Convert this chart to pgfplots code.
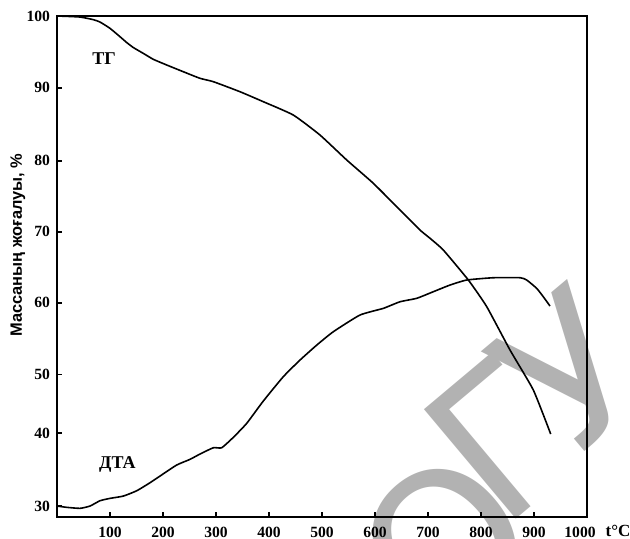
\documentclass[border=0pt]{standalone}
\usepackage{fontspec}
\setmainfont{Liberation Serif}
\newfontfamily\lsans{Liberation Sans}
\newfontfamily\wmfont{DejaVu Sans}
\usepackage{pgfplots}
\pgfplotsset{compat=1.18}
\tikzset{wm/.style={rotate=40, text=black!30, inner sep=0pt, font=\wmfont\fontsize{98}{98}\selectfont}}
\begin{document}
\begin{tikzpicture}
\begin{axis}[
  set layers,
  scale only axis, width=265pt, height=250.5pt,
  xmin=0, xmax=1000, ymin=30.13, ymax=100,
  axis line style={line width=1pt},
  tick align=inside, tick pos=left, major tick length=2.5pt,
  tick style={line width=0.8pt, black},
  xtick={100,200,300,400,500,600,700,800,900,1000},
  xticklabels={100,200,300,400,500,600,700,800,900,\hspace*{-7pt}1000},
  ytick={31.66,41.84,50,60,69.9,79.8,90,100},
  yticklabels={30,40,50,60,70,80,90,100},
  ticklabel style={font=\bfseries\fontsize{7.8}{9}\selectfont},
  xticklabel style={yshift=-1.4pt},
  ylabel={Массаның жоғалуы, \%},
  every axis y label/.style={at={(axis description cs:-0.074,0.543)}, rotate=90, anchor=center, font=\lsans\bfseries\fontsize{8.2}{10}\selectfont},
  clip=false,
]
\begin{pgfonlayer}{axis background}
\node[wm] at (axis cs:732,26.6) {О};
\node[wm] at (axis cs:837.7,41.1) {Г};
\node[wm] at (axis cs:968,50.6) {У};
\end{pgfonlayer}
\coordinate (bl) at (rel axis cs:0,0);
% TG
\addplot[black, line width=0.8pt, smooth, tension=0.3] coordinates {
(0,100)(42.8,99.86)(68.5,99.49)(81.1,99.16)(100,98.28)(118.9,97.11)(131.5,96.3)(144,95.6)
(162.8,94.79)(181.7,93.96)(206.9,93.17)(238.3,92.23)(269.8,91.31)(295,90.84)(345.3,89.44)
(389.2,88.05)(445.8,86.19)(496.2,83.40)(546.6,79.92)(596.8,76.67)(647.2,72.94)(684.9,70.15)
(703.8,69.0)(728.9,67.36)(776.1,63.18)(810.8,59.46)(854.7,53.42)(898.7,47.84)(931.5,41.70)
};
% DTA
\addplot[black, line width=0.8pt, smooth, tension=0.3] coordinates {
(0,31.66)(18.3,31.48)(43.4,31.34)(62.3,31.66)(81.1,32.40)(100,32.73)(125.1,33.05)(150.4,33.79)
(175.5,34.91)(194.3,35.84)(225.8,37.38)(250.9,38.17)(269.8,38.91)(295,39.79)(310.8,39.79)
(332.7,41.24)(357.9,43.19)(389.2,46.3)(427,49.7)(458.5,52.02)(490,54.1)(521.3,55.97)
(571.7,58.30)(615.7,59.23)(647.2,60.15)(678.7,60.63)(710,61.55)(741.5,62.48)(773,63.18)
(823.2,63.5)(874,63.5)(886.2,63.18)(905,62.02)(917.5,60.85)(930.2,59.55)
};
\node[font=\bfseries\fontsize{9}{10}\selectfont] at (axis cs:88.7,94.0) {ТГ};
\node[font=\bfseries\fontsize{9}{10}\selectfont] at (axis cs:114,37.5) {ДТА};
\node[font=\bfseries\fontsize{8.5}{10}\selectfont] at (axis cs:1058.5,28.17) {t°C};
\end{axis}
\pgfresetboundingbox
\path (bl) ++(-28.5pt,-10.5pt) rectangle ++(315pt,269pt);
\end{tikzpicture}
\end{document}
